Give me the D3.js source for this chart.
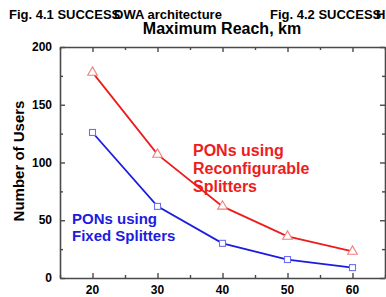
<!DOCTYPE html>
<html>
<head>
<meta charset="utf-8">
<script src="https://cdn.jsdelivr.net/npm/d3@7"></script>
<style>
  body { margin: 0; background: #fff; }
  svg { font-family: "Liberation Sans", Arial, sans-serif; }
</style>
</head>
<body>
<svg id="chart" width="386" height="297"></svg>
<script>
// data
const reach = [20, 30, 40, 50, 60];
const reconfigurable = [178, 107, 62, 36, 23];
const fixedSplit = [126, 62, 30, 16, 9];
const xTicks = [20, 30, 40, 50, 60];
const yTicks = [0, 50, 100, 150, 200];

const svg = d3.select('#chart');

const xscale = d3.scaleLinear().domain([15, 65]).range([60, 385]);
const yscale = d3.scaleLinear().domain([0, 200]).range([278, 47]);

const axisColor = '#4a4a4a';

// header texts (cut from the page)
svg.append('text').attr('x', 9).attr('y', 19)
    .style('font-size', '13px').style('font-weight', 'bold')
    .text('Fig. 4.1 SUCCESS');
svg.append('text').attr('x', 114).attr('y', 19)
    .style('font-size', '13px').style('font-weight', 'bold')
    .text('DWA architecture');
svg.append('text').attr('x', 270).attr('y', 19)
    .style('font-size', '13px').style('font-weight', 'bold')
    .text('Fig. 4.2 SUCCESS');
svg.append('text').attr('x', 376).attr('y', 19)
    .style('font-size', '13px').style('font-weight', 'bold')
    .text('H');

// axis title on top
svg.append('text').attr('x', 222).attr('y', 34)
    .attr('text-anchor', 'middle')
    .style('font-size', '16px').style('font-weight', 'bold')
    .text('Maximum Reach, km');

// y title
svg.append('text')
    .attr('transform', 'translate(24,161) rotate(-90)')
    .attr('text-anchor', 'middle')
    .style('font-size', '15px').style('font-weight', 'bold')
    .text('Number of Users');

// axes: ticks inward on all 4 sides
const minorX = d3.range(15, 66, 5);
const minorY = d3.range(0, 201, 25);

const axBottom = svg.append('g').attr('transform', `translate(0,${yscale(0)})`)
    .call(d3.axisBottom(xscale).tickValues(minorX).tickSizeInner(0).tickSizeOuter(0).tickFormat(''));
const axTop = svg.append('g').attr('transform', `translate(0,${yscale(200)})`)
    .call(d3.axisTop(xscale).tickValues(minorX).tickSizeInner(0).tickSizeOuter(0).tickFormat(''));
const axLeft = svg.append('g').attr('transform', `translate(${xscale(15)},0)`)
    .call(d3.axisLeft(yscale).tickValues(minorY).tickSizeInner(0).tickSizeOuter(0).tickFormat(''));
const axRight = svg.append('g').attr('transform', `translate(${xscale(65)},0)`)
    .call(d3.axisRight(yscale).tickValues(minorY).tickSizeInner(0).tickSizeOuter(0).tickFormat(''));

const axes = [axBottom, axTop, axLeft, axRight];
axes.forEach(g => {
    g.select('.domain').attr('stroke', axisColor).attr('stroke-width', 1.6);
});

axBottom.selectAll('.tick line').attr('y2', d => xTicks.includes(d) ? -5 : -3);
axTop.selectAll('.tick line').attr('y2', d => xTicks.includes(d) ? 5 : 3);
axLeft.selectAll('.tick line').attr('x2', d => yTicks.includes(d) ? 5 : 3);
axRight.selectAll('.tick line').attr('x2', d => yTicks.includes(d) ? -5 : -3);
axes.forEach(g => {
    g.selectAll('.tick line').attr('stroke', axisColor).attr('stroke-width', 1.4);
    g.select('.domain').raise();
});

// tick labels
svg.append('g').selectAll('text').data(xTicks).join('text')
    .attr('x', d => xscale(d)).attr('y', 294)
    .attr('text-anchor', 'middle')
    .style('font-size', '12px').style('font-weight', 'bold')
    .text(d => d);
svg.append('g').selectAll('text').data(yTicks).join('text')
    .attr('x', 52).attr('y', d => yscale(d) + 4)
    .attr('text-anchor', 'end')
    .style('font-size', '12px').style('font-weight', 'bold')
    .text(d => d);

// series
const line = d3.line().x((d, i) => xscale(reach[i])).y(d => yscale(d));

svg.append('path').datum(reconfigurable)
    .attr('d', line).attr('fill', 'none')
    .attr('stroke', '#ee1c1c').attr('stroke-width', 1.8);
svg.append('path').datum(fixedSplit)
    .attr('d', line).attr('fill', 'none')
    .attr('stroke', '#1c1ce0').attr('stroke-width', 1.8);

const tri = d3.symbol().type(d3.symbolTriangle).size(40);
svg.append('g').selectAll('path').data(reconfigurable).join('path')
    .attr('d', tri)
    .attr('transform', (d, i) => `translate(${xscale(reach[i])},${yscale(d)})`)
    .attr('fill', '#fff').attr('stroke', '#f08080').attr('stroke-width', 1.1);

svg.append('g').selectAll('rect').data(fixedSplit).join('rect')
    .attr('x', (d, i) => xscale(reach[i]) - 3)
    .attr('y', d => yscale(d) - 3)
    .attr('width', 6).attr('height', 6)
    .attr('fill', '#fff').attr('stroke', '#6f6ff0').attr('stroke-width', 1.1);

// labels
const redLab = svg.append('text')
    .style('font-size', '16px').style('font-weight', 'bold').attr('fill', '#ee1c1c');
['PONs using', 'Reconfigurable', 'Splitters'].forEach((t, i) => {
    redLab.append('tspan').attr('x', 193).attr('y', 156 + i * 18).text(t);
});
const blueLab = svg.append('text')
    .style('font-size', '15px').style('font-weight', 'bold').attr('fill', '#1c1ce0');
['PONs using', 'Fixed Splitters'].forEach((t, i) => {
    blueLab.append('tspan').attr('x', 72).attr('y', 224 + i * 17).text(t);
});
</script>
</body>
</html>
